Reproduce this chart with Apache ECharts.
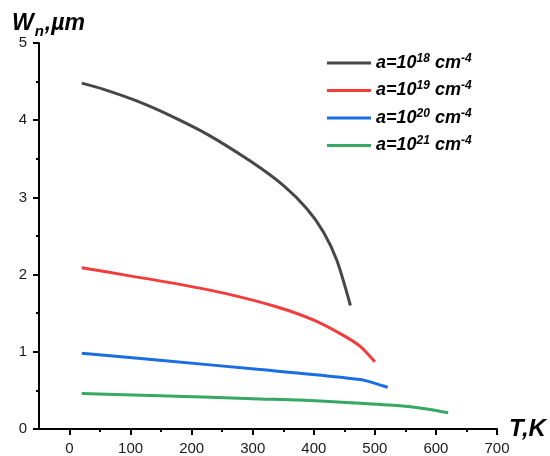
<!DOCTYPE html>
<html>
<head>
<meta charset="utf-8">
<script src="https://cdn.jsdelivr.net/npm/echarts@6/dist/echarts.min.js"></script>
<style>html,body{margin:0;padding:0;background:#fff}#c{width:550px;height:456px}</style>
</head>
<body>
<div id="c"></div>
<script>
// Data (T in K, Wn in µm)
const exponents = ['18', '19', '20', '21'];
const black18 = [[20,4.48],[56,4.40],[110,4.25],[165,4.06],[225,3.82],[296,3.47],[351,3.15],[389,2.85],[416,2.55],[438,2.18],[460,1.60]];
const red19 = [[20,2.09],[94,1.99],[176,1.88],[258,1.75],[340,1.58],[400,1.41],[449,1.21],[476,1.07],[500,0.87]];
const blue20 = [[20,0.98],[148,0.89],[312,0.77],[476,0.64],[521,0.54]];
const green21 = [[20,0.46],[148,0.43],[312,0.39],[377,0.375],[460,0.34],[541,0.30],[585,0.26],[620,0.21]];
const xMajorTicks = [0,100,200,300,400,500,600,700];
const xMinorTicks = [50,150,250,350,450,550,650];
const colors = ['#474747', '#f43c3c', '#1b6de4', '#36a862'];
const seriesData = [black18, red19, blue20, green21];

const FONT = 'Liberation Sans, Arial, sans-serif';
const chart = echarts.init(document.getElementById('c'), null, {renderer: 'canvas'});
chart.setOption({
  animation: false,
  backgroundColor: '#ffffff',
  title: {
    text: 'W{sub|n},{b|µm}',
    left: 7, top: 3,
    textStyle: {
      fontFamily: FONT, fontSize: 23, fontWeight: 'bold', fontStyle: 'italic', color: '#000',
      rich: {
        sub: {fontFamily: FONT, fontSize: 15, fontWeight: 'bold', fontStyle: 'italic', color: '#000', padding: [16, 1, 0, 1]},
        b: {fontFamily: FONT, fontSize: 23, fontWeight: 'bold', fontStyle: 'italic', color: '#000'}
      }
    }
  },
  legend: {
    left: 322, top: 47.5, orient: 'vertical',
    itemWidth: 44, itemHeight: 3, itemGap: 8,
    icon: 'rect',
    data: exponents.map(e => 'e' + e),
    formatter: function (name) {
      const e = name.slice(1);
      return '{m|a=10}{s|' + e + '}{m| cm}{s|-4}';
    },
    textStyle: {
      color: '#000',
      rich: {
        m: {fontFamily: FONT, fontSize: 18, fontWeight: 'bold', fontStyle: 'italic', color: '#000', lineHeight: 20},
        s: {fontFamily: FONT, fontSize: 12, fontWeight: 'bold', fontStyle: 'italic', color: '#000', padding: [0, 0, 9, 0]}
      }
    }
  },
  grid: {left: 39, right: 53, top: 43, bottom: 25, containLabel: false},
  xAxis: [{
    type: 'value', min: -50, max: 700, position: 'bottom',
    name: 'T,K', nameLocation: 'end', nameGap: 12,
    nameTextStyle: {fontFamily: FONT, fontSize: 24, fontWeight: 'bold', fontStyle: 'italic', color: '#000', verticalAlign: 'middle'},
    axisLine: {show: true, onZero: false, lineStyle: {color: '#000', width: 2}},
    axisTick: {show: true, inside: false, length: 6, lineStyle: {color: '#000', width: 2}, customValues: xMajorTicks},
    axisLabel: {show: true, margin: 12, fontFamily: FONT, fontSize: 15, color: '#1a1a1a', customValues: xMajorTicks},
    splitLine: {show: false}
  }, {
    type: 'value', min: -50, max: 700, position: 'bottom', offset: 0,
    axisLine: {show: false, onZero: false},
    axisTick: {show: true, inside: false, length: 3, lineStyle: {color: '#000', width: 2}, customValues: xMinorTicks},
    axisLabel: {show: false},
    splitLine: {show: false}
  }],
  yAxis: {
    type: 'value', min: 0, max: 5, interval: 1,
    axisLine: {show: true, onZero: false, lineStyle: {color: '#000', width: 2}},
    axisTick: {show: true, inside: false, length: 6, lineStyle: {color: '#000', width: 2}},
    minorTick: {show: true, splitNumber: 2, length: 3, lineStyle: {color: '#000', width: 2}},
    axisLabel: {margin: 12, fontFamily: FONT, fontSize: 15, color: '#1a1a1a'},
    splitLine: {show: false}
  },
  series: seriesData.map((d, i) => ({
    name: 'e' + exponents[i],
    type: 'line',
    xAxisIndex: 0,
    data: d,
    symbol: 'none',
    smooth: 0.25,
    lineStyle: {color: colors[i], width: 3},
    itemStyle: {color: colors[i]}
  }))
});
</script>
</body>
</html>
